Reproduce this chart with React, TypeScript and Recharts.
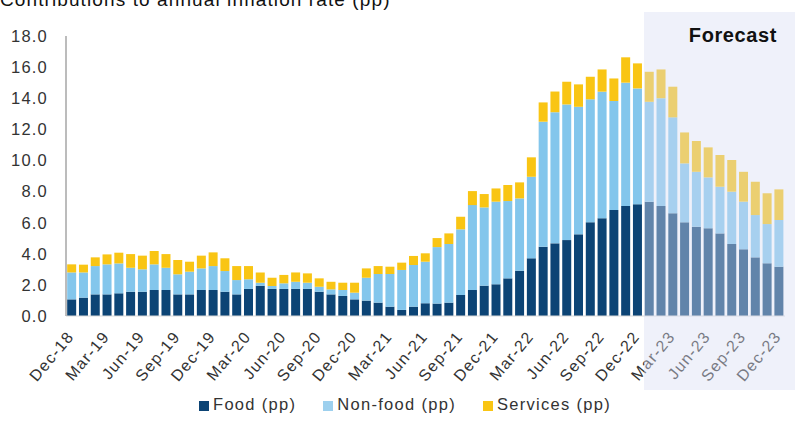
import { Bar, BarChart, XAxis, YAxis } from "recharts";

const months = [
  "Dec-18", "Jan-19", "Feb-19", "Mar-19", "Apr-19", "May-19", "Jun-19", "Jul-19", "Aug-19", "Sep-19", "Oct-19", "Nov-19",
  "Dec-19", "Jan-20", "Feb-20", "Mar-20", "Apr-20", "May-20", "Jun-20", "Jul-20", "Aug-20", "Sep-20", "Oct-20", "Nov-20",
  "Dec-20", "Jan-21", "Feb-21", "Mar-21", "Apr-21", "May-21", "Jun-21", "Jul-21", "Aug-21", "Sep-21", "Oct-21", "Nov-21",
  "Dec-21", "Jan-22", "Feb-22", "Mar-22", "Apr-22", "May-22", "Jun-22", "Jul-22", "Aug-22", "Sep-22", "Oct-22", "Nov-22",
  "Dec-22", "Jan-23", "Feb-23", "Mar-23", "Apr-23", "May-23", "Jun-23", "Jul-23", "Aug-23", "Sep-23", "Oct-23", "Nov-23",
  "Dec-23",
];

const food = [
  1.07, 1.18, 1.39, 1.39, 1.46, 1.56, 1.56, 1.67, 1.67, 1.39, 1.39, 1.67,
  1.67, 1.56, 1.39, 1.74, 1.95, 1.74, 1.74, 1.74, 1.74, 1.56, 1.39, 1.29,
  1.07, 0.99, 0.86, 0.6, 0.39, 0.6, 0.82, 0.8, 0.86, 1.35, 1.67, 1.95,
  2.04, 2.42, 2.91, 3.71, 4.45, 4.67, 4.88, 5.25, 6.02, 6.28, 6.81, 7.07,
  7.18, 7.35, 7.07, 6.6, 6.02, 5.74, 5.64, 5.31, 4.63, 4.29, 3.77, 3.39,
  3.17,
];

const nonFood = [
  1.73, 1.62, 1.82, 1.93, 1.92, 1.54, 1.44, 1.65, 1.43, 1.29, 1.46, 1.39,
  1.54, 1.33, 0.92, 0.62, 0.19, 0.19, 0.36, 0.46, 0.4, 0.32, 0.32, 0.38,
  0.43, 1.47, 1.84, 2.1, 2.57, 2.68, 2.67, 3.63, 3.77, 4.22, 5.46, 5.03,
  5.31, 4.97, 4.65, 5.24, 8.04, 8.43, 8.72, 8.2, 7.91, 8.14, 7.01, 7.93,
  7.45, 6.42, 6.93, 6.17, 3.79, 3.53, 3.27, 3.0, 3.36, 3.06, 2.72, 2.52,
  3.0,
];

const services = [
  0.52, 0.5, 0.56, 0.64, 0.69, 0.88, 0.88, 0.86, 0.88, 0.92, 0.64, 0.82,
  0.88, 0.82, 0.9, 0.85, 0.66, 0.53, 0.54, 0.6, 0.6, 0.54, 0.49, 0.47,
  0.64, 0.6, 0.51, 0.47, 0.47, 0.58, 0.54, 0.58, 0.68, 0.81, 0.9, 0.86,
  0.85, 1.03, 1.03, 1.25, 1.24, 1.33, 1.46, 1.44, 1.45, 1.43, 1.45, 1.63,
  1.61, 1.93, 1.85, 1.97, 1.99, 1.98, 1.93, 2.04, 2.04, 1.92, 2.14, 1.98,
  1.97,
];

const yTicks = [0, 2, 4, 6, 8, 10, 12, 14, 16, 18];
const forecastStart = "Jan-23";

const colors = {
  food: "#0c4475",
  nonFood: "#83c6ec",
  services: "#f9c514",
  text: "#333333",
  axis: "#a6a6a6",
  overlay: "rgba(216, 222, 242, 0.42)",
};

const FONT = "'Liberation Sans', Arial, sans-serif";
const W = 795;
const H = 434;
const margin = { top: 36, right: 10, left: 0, bottom: 0 };
const Y_AXIS_W = 66;
const X_AXIS_H = 118;

const data = months.map((month, i) => ({
  month,
  food: food[i],
  nonFood: nonFood[i],
  services: services[i],
}));

const XTick = ({ x, y, payload }: any) => {
  const ax = x + 3;
  const ay = y + 13;
  return (
    <text
      x={ax}
      y={ay}
      transform={`rotate(-50 ${ax} ${ay})`}
      textAnchor="end"
      fill={colors.text}
      fontSize={16}
      letterSpacing={1.3}
      fontFamily={FONT}
    >
      {payload.value}
    </text>
  );
};

const LegendKey = ({ color, label }: { color: string; label: string }) => (
  <div style={{ display: "flex", alignItems: "center" }}>
    <span style={{ width: 10, height: 10, background: color, marginRight: 4, marginTop: 3 }} />
    <span>{label}</span>
  </div>
);

export default function App() {
  const plotLeft = margin.left + Y_AXIS_W;
  const plotWidth = W - plotLeft - margin.right;
  const band = plotWidth / months.length;
  const overlayLeft = plotLeft + band * months.indexOf(forecastStart);

  return (
    <div style={{ position: "absolute", left: 0, top: 0, width: W, height: H, overflow: "hidden", background: "#fff", fontFamily: FONT }}>
      <div style={{ position: "absolute", left: 0, top: -10, fontSize: 19, lineHeight: "19px", letterSpacing: 1.1, color: "#111", whiteSpace: "nowrap" }}>
        Contributions to annual inflation rate (pp)
      </div>
      <BarChart width={W} height={H} data={data} margin={margin} barCategoryGap="10%">
        <XAxis
          dataKey="month"
          interval={2}
          height={X_AXIS_H}
          tickLine={false}
          axisLine={{ stroke: "#d9d9d9" }}
          tick={<XTick />}
        />
        <YAxis
          domain={[0, 18]}
          ticks={yTicks}
          width={Y_AXIS_W}
          tickLine={false}
          tickMargin={12}
          axisLine={{ stroke: colors.axis, strokeWidth: 1.5 }}
          tick={{ fill: colors.text, fontSize: 16.5, fontFamily: FONT, letterSpacing: 1.2 }}
          tickFormatter={(v: number) => v.toFixed(1)}
        />
        <Bar dataKey="food" stackId="a" fill={colors.food} isAnimationActive={false} />
        <Bar dataKey="nonFood" stackId="a" fill={colors.nonFood} isAnimationActive={false} />
        <Bar dataKey="services" stackId="a" fill={colors.services} isAnimationActive={false} />
      </BarChart>
      <div
        style={{
          position: "absolute",
          left: overlayLeft,
          top: 12,
          width: W - overlayLeft,
          height: 378,
          background: colors.overlay,
          pointerEvents: "none",
        }}
      >
        <div style={{ position: "absolute", right: 18, top: 12, fontSize: 20, fontWeight: "bold", letterSpacing: 0.6, color: "#111" }}>
          Forecast
        </div>
      </div>
      <div
        style={{
          position: "absolute",
          left: 199,
          top: 394,
          display: "flex",
          gap: 27,
          fontSize: 16.5,
          letterSpacing: 1.3,
          color: colors.text,
          lineHeight: "20px",
        }}
      >
        <LegendKey color={colors.food} label="Food (pp)" />
        <LegendKey color="#9dd0ee" label="Non-food (pp)" />
        <LegendKey color={colors.services} label="Services (pp)" />
      </div>
    </div>
  );
}
